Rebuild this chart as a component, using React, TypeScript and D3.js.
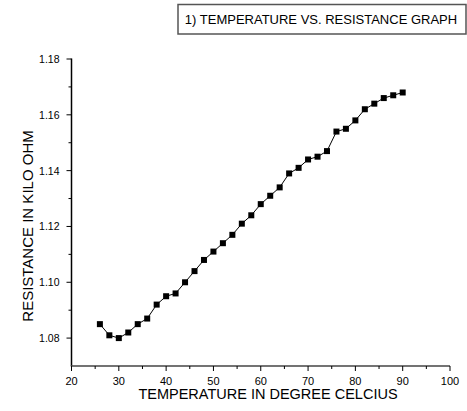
import React from "react";
import * as d3 from "d3";

const temperature = [26, 28, 30, 32, 34, 36, 38, 40, 42, 44, 46, 48, 50, 52, 54, 56, 58, 60, 62, 64, 66, 68, 70, 72, 74, 76, 78, 80, 82, 84, 86, 88, 90];
const resistance = [1.085, 1.081, 1.080, 1.082, 1.085, 1.087, 1.092, 1.095, 1.096, 1.100, 1.104, 1.108, 1.111, 1.114, 1.117, 1.121, 1.124, 1.128, 1.131, 1.134, 1.139, 1.141, 1.144, 1.145, 1.147, 1.154, 1.155, 1.158, 1.162, 1.164, 1.166, 1.167, 1.168];
const xTicks = [20, 30, 40, 50, 60, 70, 80, 90, 100];
const xMinor = [25, 35, 45, 55, 65, 75, 85, 95];
const yTicks = [1.08, 1.10, 1.12, 1.14, 1.16, 1.18];
const yMinor = [1.09, 1.11, 1.13, 1.15, 1.17];
const title = "1) TEMPERATURE VS. RESISTANCE GRAPH";
const xTitle = "TEMPERATURE IN DEGREE CELCIUS";
const yTitle = "RESISTANCE IN KILO OHM";

export default function App() {
  const W = 467, H = 411;
  const x = d3.scaleLinear().domain([20, 100]).range([71.5, 450]);
  const y = d3.scaleLinear().domain([1.07, 1.18]).range([366, 59]);
  const pts = temperature.map((t, i) => [t, resistance[i]] as [number, number]);
  const line = d3.line<[number, number]>().x(d => x(d[0])).y(d => y(d[1]));
  const font = "'Liberation Sans', Arial, sans-serif";
  const ms = 6;
  return (
    <svg width={W} height={H} style={{ position: "absolute", left: 0, top: 0, background: "#fff" }} fontFamily={font}>
      <rect x={0} y={0} width={W} height={H} fill="#fff" />
      <rect x={178} y={4.5} width={288} height={29.5} fill="#fff" stroke="#555" strokeWidth={1.5} />
      <text x={321} y={24} textAnchor="middle" fontSize={13} fill="#000">{title}</text>
      <path d={line(pts) || ""} fill="none" stroke="#000" strokeWidth={1} />
      {pts.map((p, i) => (
        <rect key={i} x={x(p[0]) - ms / 2} y={y(p[1]) - ms / 2} width={ms} height={ms} fill="#000" />
      ))}
      <line x1={x(20)} x2={x(20)} y1={y(1.18) - 0.5} y2={y(1.07)} stroke="#000" strokeWidth={1.5} />
      <line x1={x(20) - 0.75} x2={x(100)} y1={y(1.07)} y2={y(1.07)} stroke="#444" strokeWidth={1.5} />
      {xTicks.map(t => (
        <g key={t}>
          <line x1={x(t)} x2={x(t)} y1={y(1.07)} y2={y(1.07) + 5} stroke="#000" strokeWidth={1} />
          <text x={x(t)} y={385} textAnchor="middle" fontSize={11} fill="#000">{t}</text>
        </g>
      ))}
      {xMinor.map(t => (
        <line key={t} x1={x(t)} x2={x(t)} y1={y(1.07)} y2={y(1.07) + 3} stroke="#000" strokeWidth={1} />
      ))}
      {yTicks.map(t => (
        <g key={t}>
          <line x1={x(20) - 5} x2={x(20)} y1={y(t)} y2={y(t)} stroke="#000" strokeWidth={1} />
          <text x={x(20) - 12} y={y(t) + 4} textAnchor="end" fontSize={10.5} fill="#000">{t.toFixed(2)}</text>
        </g>
      ))}
      {yMinor.map(t => (
        <line key={t} x1={x(20) - 3} x2={x(20)} y1={y(t)} y2={y(t)} stroke="#000" strokeWidth={1} />
      ))}
      <text x={268} y={399} textAnchor="middle" fontSize={14.5} fill="#000">{xTitle}</text>
      <text transform={`translate(33,226) rotate(-90)`} textAnchor="middle" fontSize={15} fill="#000">{yTitle}</text>
    </svg>
  );
}
